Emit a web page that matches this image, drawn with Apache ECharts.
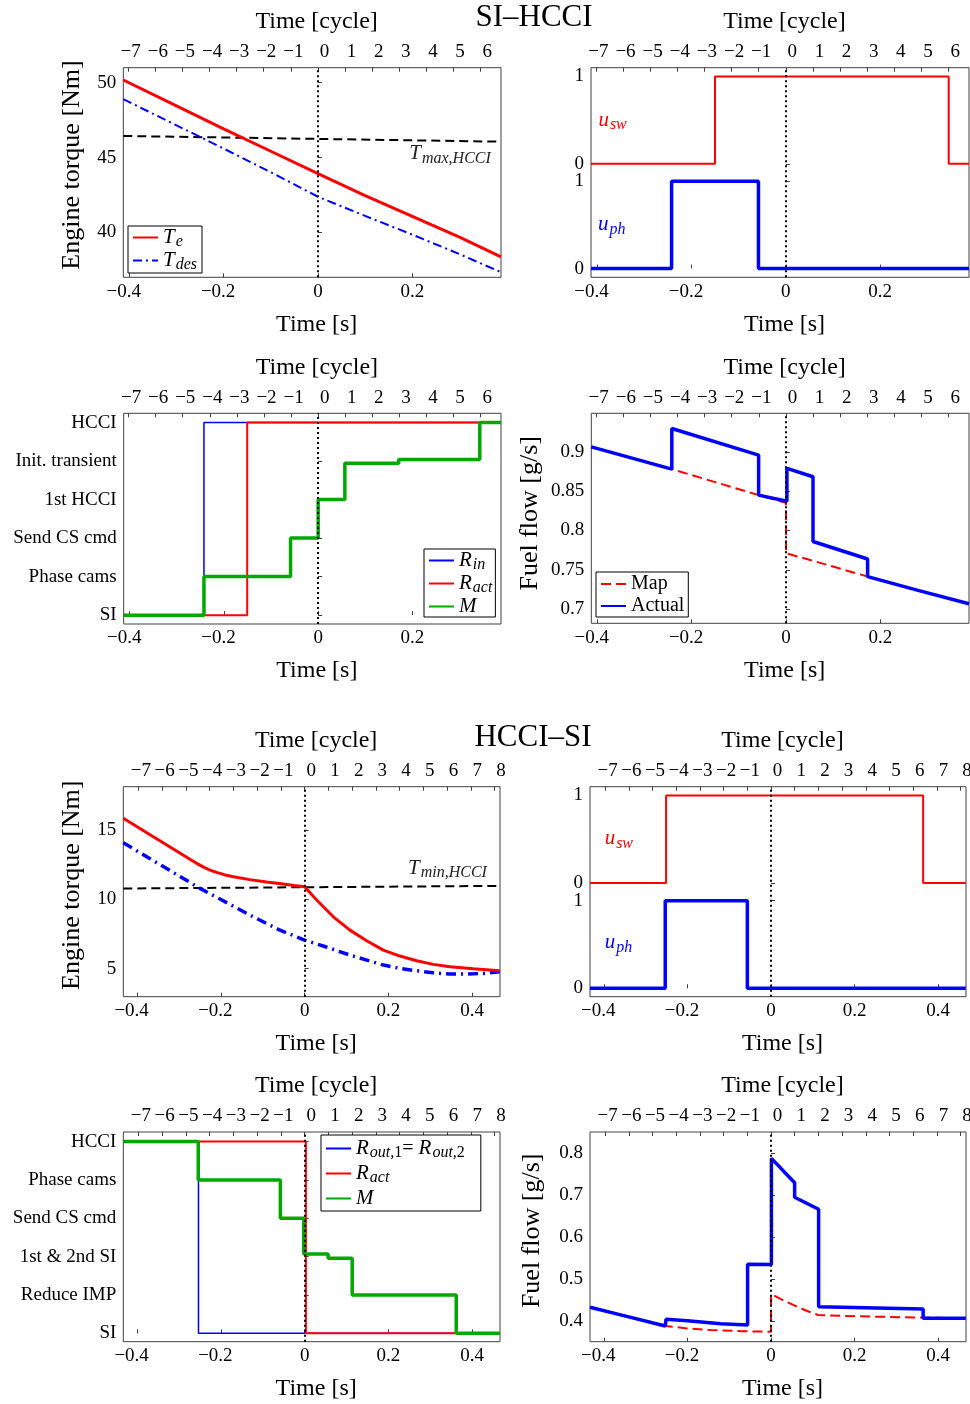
<!DOCTYPE html>
<html><head><meta charset="utf-8">
<script src="https://cdn.jsdelivr.net/npm/echarts@6/dist/echarts.min.js"></script>
<style>html,body{margin:0;padding:0;background:#fff}#c{width:970px;height:1404px}</style>
</head><body><div id="c"></div>
<script>
// ================= DATA =================
// --- SI–HCCI : engine torque ---
const tA      = [-0.4127, -0.3, -0.2, -0.1, 0, 0.1, 0.2, 0.3, 0.388];
const teA     = [50.18, 48.45, 46.92, 45.42, 43.93, 42.45, 41.07, 39.68, 38.37];
const tdesA   = [48.9, 47.15, 45.6, 44.02, 42.38, 41.1, 39.85, 38.55, 37.34];
const tTmaxA  = [-0.4127, 0.388];
const tmaxA   = [46.44, 46.06];
// --- SI–HCCI : switch signals ---
const tUswB = [-0.4127, -0.150, 0.345, 0.388];
const uswB  = [0, 1, 0, 0];
const tUphB = [-0.4127, -0.242, -0.058, 0.388];
const uphB  = [0, 1, 0, 0];
// --- SI–HCCI : modes ---
const modesC = ['SI', 'Phase cams', 'Send CS cmd', '1st HCCI', 'Init. transient', 'HCCI'];
const tRinC  = [-0.4127, -0.2424, 0.388];
const rinC   = [0, 5, 5];
const tRactC = [-0.4127, -0.1506, 0.388];
const ractC  = [0, 5, 5];
const tMC    = [-0.4127, -0.2424, -0.0586, 0, 0.0566, 0.171, 0.343, 0.388];
const mC     = [0, 1, 2, 3, 3.94, 4.04, 5, 5];
// --- SI–HCCI : fuel flow ---
const tMapD = [-0.4127, -0.242, -0.15, -0.058, 0, 0, 0.0573, 0.173, 0.28, 0.388];
const mapD  = [0.9063, 0.878, 0.8615, 0.845, 0.8353, 0.771, 0.7615, 0.7414, 0.7238, 0.7069];
const tActD = [-0.4127, -0.242, -0.242, -0.058, -0.058, 0.002, 0.002, 0.0573, 0.0573, 0.173, 0.173, 0.28, 0.388];
const actD  = [0.9063, 0.878, 0.9297, 0.8958, 0.845, 0.8372, 0.8789, 0.8683, 0.786, 0.7638, 0.7414, 0.7238, 0.7069];
// --- HCCI–SI : engine torque ---
const tE     = [-0.433, -0.369, -0.3, -0.27, -0.26, -0.25, -0.24, -0.23, -0.22, -0.21, -0.19, -0.17, -0.131, -0.091, -0.051, -0.025, 0,
                0.0287, 0.0685, 0.1083, 0.148, 0.1878, 0.2276, 0.2674, 0.3072, 0.347, 0.4027, 0.466];
const teE    = [15.84, 14.66, 13.38, 12.82, 12.63, 12.47, 12.3, 12.16, 12.04, 11.94, 11.76, 11.63, 11.42, 11.25, 11.1, 11.0, 10.91,
                9.95, 8.74, 7.78, 7.01, 6.34, 5.91, 5.57, 5.31, 5.14, 5.0, 4.85];
const tTdesE = [-0.433, -0.369, -0.25, -0.201, -0.131, -0.06, 0, 0.05, 0.108, 0.188, 0.228, 0.267, 0.307, 0.347, 0.387, 0.427, 0.466];
const tdesE  = [14.08, 12.93, 10.79, 10.0, 8.87, 7.79, 7.06, 6.58, 5.98, 5.26, 5.02, 4.85, 4.7, 4.61, 4.61, 4.66, 4.78];
const tTminE = [-0.433, 0.466];
const tminE  = [10.78, 10.97];
// --- HCCI–SI : switch signals ---
const tUswF = [-0.433, -0.251, 0.364, 0.466];
const uswF  = [0, 1, 0, 0];
const tUphF = [-0.433, -0.253, -0.0566, 0.466];
const uphF  = [0, 1, 0, 0];
// --- HCCI–SI : modes ---
const modesG = ['SI', 'Reduce IMP', '1st & 2nd SI', 'Send CS cmd', 'Phase cams', 'HCCI'];
const tRoutG = [-0.433, -0.2535, 0.466];
const routG  = [5, 0, 0];
const tRactG = [-0.433, 0.003, 0.466];
const ractG  = [5, 0, 0];
const tMG    = [-0.433, -0.254, -0.058, -0.002, 0.056, 0.1136, 0.362, 0.466];
const mG     = [5, 4, 3, 2.07, 1.96, 1, 0, 0];
// --- HCCI–SI : fuel flow ---
const tMapH = [-0.433, -0.35, -0.253, -0.2, -0.144, -0.07, 0, 0, 0.025, 0.053, 0.085, 0.113, 0.173, 0.253, 0.364, 0.466];
const mapH  = [0.4333, 0.4128, 0.3888, 0.383, 0.379, 0.3765, 0.375, 0.465, 0.452, 0.439, 0.425, 0.415, 0.4126, 0.411, 0.4086, 0.407];
const tActH = [-0.433, -0.35, -0.253, -0.251, -0.2, -0.12, -0.056, -0.056, 0.001, 0.001, 0.0565, 0.0565, 0.1139, 0.1139, 0.364, 0.364, 0.466];
const actH  = [0.4333, 0.4128, 0.3888, 0.4048, 0.4015, 0.394, 0.391, 0.5357, 0.535, 0.788, 0.730, 0.6952, 0.6667, 0.4348, 0.4293, 0.407, 0.407];

// axis ranges and ticks
const xRangeTop = [-0.4127, 0.388];
const xRangeBot = [-0.433, 0.4665];
const secTicksTop = [-0.4, -0.2, 0, 0.2];
const secTicksBot = [-0.4, -0.2, 0, 0.2, 0.4];
const cycTicksTop = [-7, -6, -5, -4, -3, -2, -1, 0, 1, 2, 3, 4, 5, 6];
const cycTicksBot = [-7, -6, -5, -4, -3, -2, -1, 0, 1, 2, 3, 4, 5, 6, 7, 8];
const CYCLE_S_TOP = 0.05748;   // seconds per engine cycle (upper transition)
const CYCLE_S_BOT = 0.0567;    // seconds per engine cycle (lower transition)
const USW_OFFSET = 1.2;        // u_sw drawn above u_ph
const torqueTicksA = [40, 45, 50];
const torqueTicksE = [5, 10, 15];
const fuelTicksD = [0.7, 0.75, 0.8, 0.85, 0.9];
const fuelTicksH = [0.4, 0.5, 0.6, 0.7, 0.8];
const swTicks = [0, 1, 1.2, 2.2];
const swTickLabels = ['0', '1', '0', '1'];
const modeTicks = [0, 1, 2, 3, 4, 5];

// ================= CHART =================
const SER = "'Liberation Serif','Times New Roman',serif";
const RED = '#ff0000', BLUE = '#0000ff', GREEN = '#00a800', BOX = '#404040';
const pairs = (ts, vs, off) => ts.map((t, i) => [t, vs[i] + (off || 0)]);
const minus = s => s.replace('-', '\u2212');
const fmtNum = v => minus(String(+(+v).toFixed(4)));

const gridRects = [
  {left: 123.3, top: 67.7, width: 377.7, height: 209.6},
  {left: 591, top: 67.7, width: 378, height: 209.6},
  {left: 123.7, top: 413.3, width: 377.3, height: 210.7},
  {left: 591.3, top: 413.3, width: 377.7, height: 210},
  {left: 123.3, top: 786.7, width: 376.7, height: 210},
  {left: 590, top: 786.7, width: 376, height: 210},
  {left: 123.3, top: 1132, width: 376.7, height: 209.7},
  {left: 590, top: 1132, width: 376, height: 209.7}
];
const grid = gridRects.map(r => Object.assign({show: true, borderColor: BOX, borderWidth: 1,
  backgroundColor: 'transparent', containLabel: false, outerBoundsMode: 'none'}, r));

const tickStyle = {show: true, inside: true, length: 4, lineStyle: {color: BOX, width: 1}};
const lblBase = {fontFamily: SER, fontSize: 19, color: '#000', hideOverlap: false};
const nameStyle = {fontFamily: SER, fontSize: 24, color: '#000', padding: [0, 0, 0, 9]};
const tokSt = pad => ({fontFamily: SER, fontSize: 19, color: '#000', padding: pad});

const xAxis = [], yAxis = [];
for (let g = 0; g < 8; g++) {
  const top = g < 4;
  const rng = top ? xRangeTop : xRangeBot;
  const cyc = top ? CYCLE_S_TOP : CYCLE_S_BOT;
  xAxis.push({type: 'value', gridIndex: g, position: 'bottom', min: rng[0], max: rng[1],
    name: 'Time [s]', nameLocation: 'middle', nameGap: 35, nameTextStyle: nameStyle, nameMoveOverlap: false,
    axisLine: {show: false}, splitLine: {show: false},
    axisTick: Object.assign({customValues: top ? secTicksTop : secTicksBot}, tickStyle),
    axisLabel: Object.assign({margin: 5, customValues: top ? secTicksTop : secTicksBot,
      formatter: v => (v < 0 ? '{n|' : '{p|') + fmtNum(v) + '}',
      rich: {n: tokSt([0, 11, 0, 0]), p: tokSt([0, 0, 0, 0])}}, lblBase)});
  xAxis.push({type: 'value', gridIndex: g, position: 'top', min: rng[0] / cyc, max: rng[1] / cyc,
    name: 'Time [cycle]', nameLocation: 'middle', nameGap: 34, nameTextStyle: nameStyle, nameMoveOverlap: false,
    axisLine: {show: false}, splitLine: {show: false},
    axisTick: Object.assign({customValues: top ? cycTicksTop : cycTicksBot}, tickStyle),
    axisLabel: Object.assign({margin: 6, customValues: top ? cycTicksTop : cycTicksBot,
      formatter: v => (v < 0 ? '{n|' : '{p|') + fmtNum(v) + '}',
      rich: {n: tokSt([0, 0, 0, 5]), p: tokSt([0, 0, 0, 13])}}, lblBase)});
}
const yDefs = [
  {min: 37, max: 51, ticks: torqueTicksA, fmt: fmtNum, name: 'Engine torque [Nm]', gap: 38, shift: 15},
  {min: -0.1, max: 2.3, ticks: swTicks, fmt: v => swTickLabels[swTicks.indexOf(+(+v).toFixed(4))]},
  {min: -0.23, max: 5.24, ticks: modeTicks, fmt: v => modesC[Math.round(v)]},
  {min: 0.682, max: 0.949, ticks: fuelTicksD, fmt: fmtNum, name: 'Fuel flow [g/s]', gap: 48, shift: 10},
  {min: 2.98, max: 18.12, ticks: torqueTicksE, fmt: fmtNum, name: 'Engine torque [Nm]', gap: 38, shift: 13},
  {min: -0.096, max: 2.3, ticks: swTicks, fmt: v => swTickLabels[swTicks.indexOf(+(+v).toFixed(4))]},
  {min: -0.22, max: 5.25, ticks: modeTicks, fmt: v => modesG[Math.round(v)]},
  {min: 0.3514, max: 0.8507, ticks: fuelTicksH, fmt: fmtNum, name: 'Fuel flow [g/s]', gap: 45, shift: 12}
];
yDefs.forEach((d, g) => {
  yAxis.push({type: 'value', gridIndex: g, position: 'left', min: d.min, max: d.max,
    name: d.name || '', nameLocation: 'middle', nameGap: d.gap || 40, nameMoveOverlap: false,
    nameTextStyle: {fontFamily: SER, fontSize: 26, color: '#000', padding: [0, 0, 0, d.shift || 0]},
    axisLine: {show: false}, splitLine: {show: false},
    axisTick: Object.assign({customValues: d.ticks}, tickStyle),
    axisLabel: Object.assign({margin: 7, customValues: d.ticks, formatter: d.fmt}, lblBase)});
});

const zeroLine = {silent: true, symbol: ['none', 'none'], animation: false, label: {show: false},
  lineStyle: {color: '#000', width: 2, type: [2, 3]}, data: [{xAxis: 0}]};

function line(name, g, data, color, width, type, extra) {
  return Object.assign({type: 'line', name: name, xAxisIndex: 2 * g, yAxisIndex: g, data: data,
    symbol: 'none', showSymbol: false, animation: false, silent: true,
    lineStyle: {color: color, width: width, type: type || 'solid'}, itemStyle: {color: color}}, extra || {});
}
const annRich = (col) => ({
  i: {fontFamily: SER, fontStyle: 'italic', fontSize: 21, color: col},
  s: {fontFamily: SER, fontStyle: 'italic', fontSize: 16, color: col, padding: [10, 0, 0, 1]}
});
function annot(coord, text, col) {
  return {symbol: 'circle', symbolSize: 0, silent: true, animation: false,
    data: [{coord: coord, value: 0, label: {show: true, position: 'inside', formatter: text, rich: annRich(col)}}]};
}

const series = [
  // P1
  line('Tmax', 0, pairs(tTmaxA, tmaxA), '#000', 2, [9, 5], {markLine: zeroLine,
    markPoint: annot([0.28, 45.25], '{i|T}{s|max,HCCI}', '#222')}),
  line('Tdes', 0, pairs(tA, tdesA), BLUE, 2, [9, 4, 2, 4]),
  line('Te', 0, pairs(tA, teA), RED, 3),
  // P2
  line('uph', 1, pairs(tUphB, uphB), BLUE, 3.5, 'solid', {step: 'end', markLine: zeroLine,
    markPoint: annot([-0.369, 0.5], '{i|u}{s|ph}', BLUE)}),
  line('usw', 1, pairs(tUswB, uswB, USW_OFFSET), RED, 2, 'solid', {step: 'end',
    markPoint: annot([-0.367, 1.7], '{i|u}{s|sw}', RED)}),
  // P3
  line('Rin', 2, pairs(tRinC, rinC), BLUE, 1.5, 'solid', {step: 'end', markLine: zeroLine}),
  line('RactC', 2, pairs(tRactC, ractC), RED, 2, 'solid', {step: 'end'}),
  line('MC', 2, pairs(tMC, mC), GREEN, 3.5, 'solid', {step: 'end'}),
  // P4
  line('Map', 3, pairs(tMapD, mapD), RED, 2, [10, 5], {markLine: zeroLine}),
  line('Actual', 3, pairs(tActD, actD), BLUE, 3.5),
  // P5
  line('TminE', 4, pairs(tTminE, tminE), '#000', 2, [9, 5], {markLine: zeroLine,
    markPoint: annot([0.341, 12.25], '{i|T}{s|min,HCCI}', '#222')}),
  line('TdesE', 4, pairs(tTdesE, tdesE), BLUE, 3.5, [10, 5, 2, 5]),
  line('TeE', 4, pairs(tE, teE), RED, 3),
  // P6
  line('uphF', 5, pairs(tUphF, uphF), BLUE, 3.5, 'solid', {step: 'end', markLine: zeroLine,
    markPoint: annot([-0.365, 0.52], '{i|u}{s|ph}', BLUE)}),
  line('uswF', 5, pairs(tUswF, uswF, USW_OFFSET), RED, 2, 'solid', {step: 'end',
    markPoint: annot([-0.364, 1.71], '{i|u}{s|sw}', RED)}),
  // P7
  line('Rout', 6, pairs(tRoutG, routG), BLUE, 1.5, 'solid', {step: 'end', markLine: zeroLine}),
  line('RactG', 6, pairs(tRactG, ractG), RED, 2, 'solid', {step: 'end'}),
  line('MG', 6, pairs(tMG, mG), GREEN, 3.5, 'solid', {step: 'end'}),
  // P8
  line('MapH', 7, pairs(tMapH, mapH), RED, 2, [10, 5], {markLine: zeroLine}),
  line('ActualH', 7, pairs(tActH, actH), BLUE, 3.5)
];

const legendLabel = {
  Te: '{i|T}{s|e}', Tdes: '{i|T}{s|des}', Rin: '{i|R}{s|in}', RactC: '{i|R}{s|act}', MC: '{i|M}',
  Map: '{n|Map}', Actual: '{n|Actual}',
  Rout: '{i|R}{s|out,}{d|1}{n|= }{i|R}{s|out,}{d|2}', RactG: '{i|R}{s|act}', MG: '{i|M}'
};
const legRich = {
  n: {fontFamily: SER, fontSize: 20, color: '#000'},
  i: {fontFamily: SER, fontStyle: 'italic', fontSize: 21, color: '#000'},
  s: {fontFamily: SER, fontStyle: 'italic', fontSize: 16, color: '#000', padding: [9, 0, 0, 1]},
  d: {fontFamily: SER, fontSize: 16, color: '#000', padding: [9, 0, 0, 0]}
};
function legend(names, left, top, gap, pad) {
  return {data: names, left: left, top: top, orient: 'vertical', itemWidth: 25, itemHeight: 2,
    itemGap: gap, itemTextGap: 3, padding: pad, borderColor: '#000', borderWidth: 1, borderRadius: 0,
    backgroundColor: '#fff', selectedMode: false, formatter: n => legendLabel[n],
    itemStyle: {opacity: 0},
    textStyle: {fontFamily: SER, fontSize: 20, color: '#000', rich: legRich}};
}

const titleStyle = {fontFamily: SER, fontSize: 31, fontWeight: 'normal', color: '#000'};
const option = {
  animation: false,
  backgroundColor: '#fff',
  title: [
    {text: 'SI\u2013HCCI', left: 534, top: 2, padding: 0, textAlign: 'center', textStyle: titleStyle},
    {text: 'HCCI\u2013SI', left: 533, top: 722, padding: 0, textAlign: 'center', textStyle: titleStyle}
  ],
  legend: [
    legend(['Te', 'Tdes'], 128, 226, 0, [1, 5, 0, 4]),
    legend(['Rin', 'RactC', 'MC'], 424, 549, 0, [1, 3, 0, 4]),
    legend(['Map', 'Actual'], 596, 572, 2, [2, 4, 1, 4]),
    legend(['Rout', 'RactG', 'MG'], 321, 1135, 2, [3, 16, 2, 4])
  ],
  grid: grid,
  xAxis: xAxis,
  yAxis: yAxis,
  series: series
};
const chart = echarts.init(document.getElementById('c'), null, {renderer: 'canvas'});
chart.setOption(option);
</script></body></html>
